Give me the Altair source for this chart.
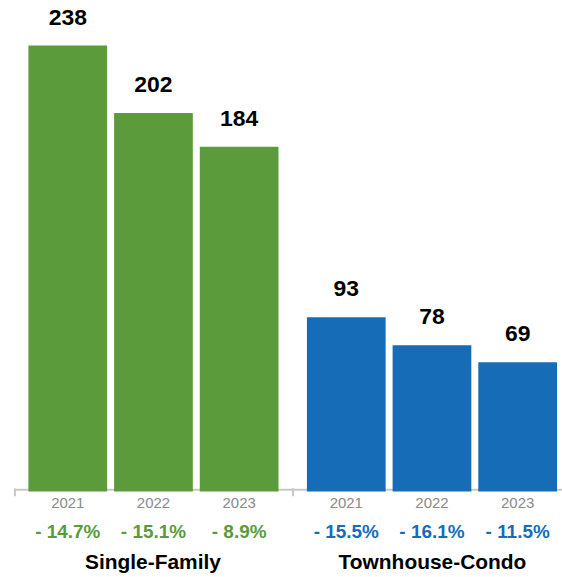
import altair as alt
import pandas as pd

groups = ["Single-Family", "Townhouse-Condo"]
years = ["2021", "2022", "2023"]
sf_values = [238, 202, 184]
tc_values = [93, 78, 69]
sf_changes = ["- 14.7%", "- 15.1%", "- 8.9%"]
tc_changes = ["- 15.5%", "- 16.1%", "- 11.5%"]
colors = ["#5B9B3B", "#176CB8"]

H = 486
FONT = "Liberation Sans"
Y_DOMAIN = [3.25, 261.8]


def panel(group, values, changes, color, width, pad_outer, align, title_x):
    df = pd.DataFrame({"year": years, "value": values, "change": changes})
    xscale = alt.Scale(paddingInner=0.0814, paddingOuter=pad_outer, align=align)
    x = alt.X("year:N", scale=xscale, sort=years,
              axis=alt.Axis(title=None, ticks=False, domainColor="#c8c8c8", domainWidth=2,
                            offset=4, labelColor="#8a8a8a", labelFontSize=15, labelFont=FONT,
                            labelPadding=6, labelAngle=0))
    y = alt.Y("value:Q", scale=alt.Scale(domain=Y_DOMAIN, zero=False), axis=None)
    base = alt.Chart(df)
    bars = base.mark_bar(color=color).encode(x=x, y=y, y2=alt.value(H))
    vals = base.mark_text(font=FONT, fontSize=23, fontWeight="bold", color="#000000",
                          baseline="alphabetic", dy=-21).encode(x=x, y=y, text="value:Q")
    chg = base.mark_text(font=FONT, fontSize=19, fontWeight="bold", color=color,
                         baseline="middle").encode(x=x, y=alt.value(H + 47), text="change:N")
    gdf = pd.DataFrame({"group": [group]})
    title = alt.Chart(gdf).mark_text(font=FONT, fontSize=21, fontWeight="bold", color="#000000",
                                     baseline="middle").encode(
        x=alt.value(title_x), y=alt.value(H + 78), text="group:N")
    tick = alt.Chart(gdf).mark_rule(color="#c8c8c8", strokeWidth=2).encode(
        x=alt.value(0), y=alt.value(H + 3), y2=alt.value(H + 11))
    return alt.layer(bars, vals, chg, title, tick).properties(width=width, height=H)


p1 = panel(groups[0], sf_values, sf_changes, colors[0], 278, 0.157, 0.5, 138.5)
p2 = panel(groups[1], tc_values, tc_changes, colors[1], 270, 0.1105, 0.737, 140)

chart = alt.hconcat(p1, p2, spacing=0).resolve_scale(x="independent").properties(
    padding={"left": 14, "top": 0, "right": 0, "bottom": 0}
).configure(background="#ffffff").configure_view(stroke=None, strokeWidth=0)

chart.save("out.html", embed_options={"renderer": "svg", "actions": False})
